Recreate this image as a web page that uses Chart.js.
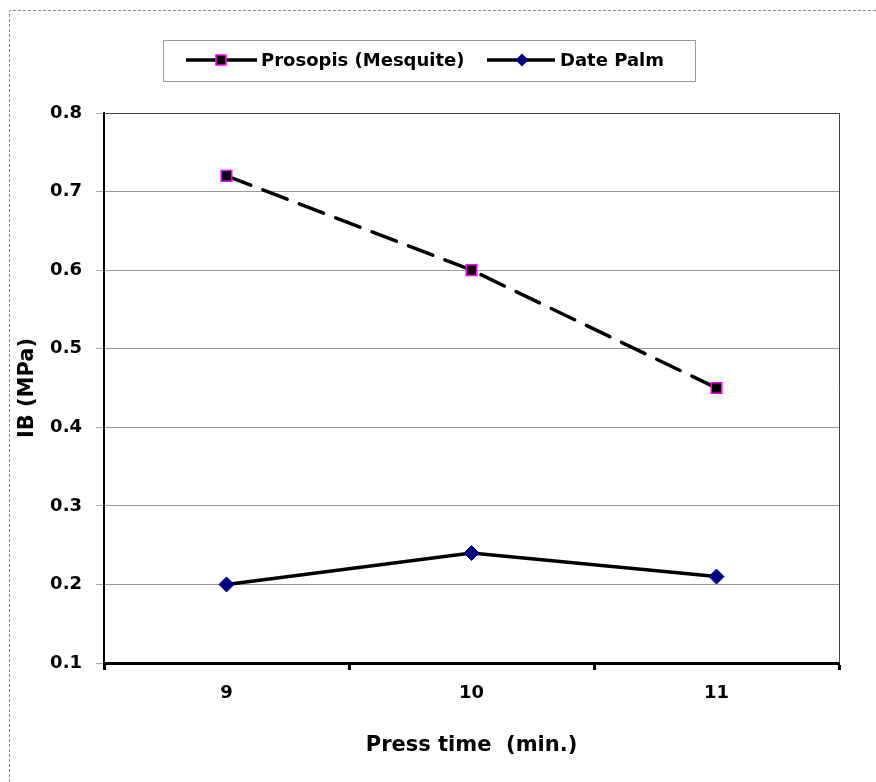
<!DOCTYPE html>
<html>
<head>
<meta charset="utf-8">
<script src="https://cdn.jsdelivr.net/npm/chart.js@4/dist/chart.umd.min.js"></script>
<style>
html,body{margin:0;padding:0;background:#fff;}
#wrap{width:876px;height:782px;position:relative;}
</style>
</head>
<body>
<div id="wrap"><canvas id="c" width="876" height="782"></canvas></div>
<script>
const categories = ['9', '10', '11'];
const prosopis = [0.72, 0.60, 0.45];
const datePalm = [0.20, 0.24, 0.21];
const seriesNames = ['Prosopis (Mesquite)', 'Date Palm'];
const yTicks = [0.1, 0.2, 0.3, 0.4, 0.5, 0.6, 0.7, 0.8];
const xTitle = 'Press time  (min.)';
const yTitle = 'IB (MPa)';

const FONT = '"DejaVu Sans", Arial, sans-serif';

const frame = {
  id: 'frame',
  beforeDraw(chart) {
    const ctx = chart.ctx;
    ctx.save();
    ctx.strokeStyle = '#8a8a8a';
    ctx.lineWidth = 1;
    ctx.setLineDash([3, 2]);
    ctx.beginPath();
    ctx.moveTo(9.5, 782); ctx.lineTo(9.5, 10.5); ctx.lineTo(876, 10.5);
    ctx.stroke();
    ctx.restore();
  },
  afterDraw(chart) {
    const ctx = chart.ctx;
    const a = chart.chartArea;
    ctx.save();
    // plot area top/right border
    ctx.strokeStyle = '#444';
    ctx.lineWidth = 1;
    ctx.beginPath();
    ctx.moveTo(a.left, a.top + 0.5); ctx.lineTo(a.right + 0.5, a.top + 0.5); ctx.lineTo(a.right + 0.5, a.bottom);
    ctx.stroke();
    // legend
    const bx = 163.5, by = 40.5, bw = 532, bh = 41;
    ctx.strokeStyle = '#9a9a9a';
    ctx.lineWidth = 1;
    ctx.strokeRect(bx, by, bw, bh);
    const cy = 60;
    const entries = [
      {x0: 186, x1: 257, mx: 221, tx: 261, kind: 'square'},
      {x0: 487, x1: 555, mx: 522, tx: 560, kind: 'diamond'}
    ];
    ctx.font = 'bold 18px ' + FONT;
    ctx.textBaseline = 'middle';
    ctx.textAlign = 'left';
    entries.forEach((e, i) => {
      ctx.strokeStyle = '#000';
      ctx.lineWidth = 3.5;
      ctx.beginPath(); ctx.moveTo(e.x0, cy); ctx.lineTo(e.x1, cy); ctx.stroke();
      if (e.kind === 'square') {
        ctx.fillStyle = '#000';
        ctx.fillRect(e.mx - 5, cy - 5, 10, 10);
        ctx.strokeStyle = '#ff00ff'; ctx.lineWidth = 1.5;
        ctx.strokeRect(e.mx - 5, cy - 5, 10, 10);
      } else {
        ctx.fillStyle = '#000080';
        ctx.beginPath();
        ctx.moveTo(e.mx, cy - 6.5); ctx.lineTo(e.mx + 6.5, cy); ctx.lineTo(e.mx, cy + 6.5); ctx.lineTo(e.mx - 6.5, cy);
        ctx.closePath(); ctx.fill();
      }
      ctx.fillStyle = '#000';
      ctx.fillText(seriesNames[i], e.tx, cy + 1);
    });
    ctx.restore();
  }
};

new Chart(document.getElementById('c'), {
  type: 'line',
  data: {
    labels: categories,
    datasets: [
      {
        label: seriesNames[0],
        data: prosopis,
        borderColor: '#000',
        borderWidth: 3.5,
        borderDash: [26, 13],
        borderCapStyle: 'round',
        pointStyle: 'rect',
        pointRadius: 7.5,
        pointBackgroundColor: '#000',
        pointBorderColor: '#ff00ff',
        pointBorderWidth: 1.5,
        tension: 0,
        fill: false
      },
      {
        label: seriesNames[1],
        data: datePalm,
        borderColor: '#000',
        borderWidth: 3.5,
        pointStyle: 'rectRot',
        pointRadius: 7.5,
        pointBackgroundColor: '#000080',
        pointBorderColor: '#000080',
        pointBorderWidth: 1,
        tension: 0,
        fill: false
      }
    ]
  },
  options: {
    responsive: false,
    animation: false,
    layout: {padding: {left: 0, top: 113, right: 37, bottom: 0}},
    plugins: {legend: {display: false}, tooltip: {enabled: false}},
    scales: {
      x: {
        type: 'category',
        offset: true,
        grid: {offset: true, drawOnChartArea: false, tickLength: 7, tickColor: '#000', tickWidth: 3},
        border: {color: '#000', width: 3},
        ticks: {color: '#000', font: {family: FONT, size: 18, weight: 'bold'}, padding: 13},
        title: {display: true, text: xTitle, color: '#000', font: {family: FONT, size: 21, weight: 'bold'}, padding: {top: 0, bottom: 24}},
        afterFit(s) { s.height = 119; }
      },
      y: {
        min: 0.1, max: 0.8,
        afterBuildTicks(s) { s.ticks = yTicks.map(v => ({value: v})); },
        grid: {color: '#999', lineWidth: 1, tickLength: 8, tickColor: '#aaa'},
        border: {color: '#000', width: 2},
        ticks: {color: '#000', font: {family: FONT, size: 18, weight: 'bold'}, padding: 14, callback: v => v.toFixed(1)},
        title: {display: true, text: yTitle, color: '#000', font: {family: FONT, size: 21, weight: 'bold'}, padding: {top: 15, bottom: 0}},
        afterFit(s) { s.width = 104; }
      }
    }
  },
  plugins: [frame]
});
</script>
</body>
</html>
